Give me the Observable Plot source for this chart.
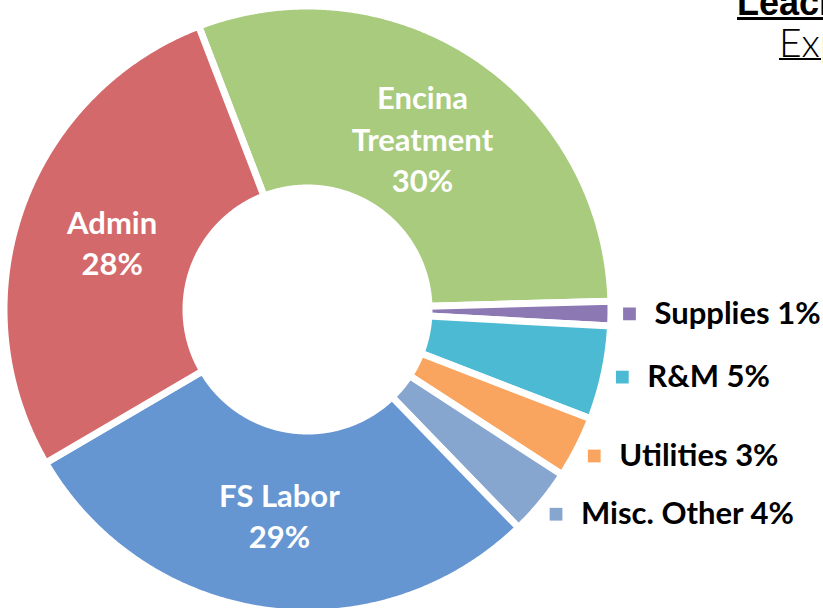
<!DOCTYPE html>
<html>
<head>
<meta charset="utf-8">
<script src="https://cdn.jsdelivr.net/npm/d3@7"></script>
<script src="https://cdn.jsdelivr.net/npm/@observablehq/plot@0.6"></script>
<style>
html, body { margin: 0; padding: 0; background: #fff; width: 823px; height: 608px; overflow: hidden; }
#wrap { position: relative; width: 823px; height: 608px; overflow: hidden; }
#chart { position: absolute; left: 0; top: 0; }
.title1 { position: absolute; left: 737px; top: -12px; font: bold 36px/30px "Liberation Sans", Arial, sans-serif; text-decoration: underline; text-decoration-thickness: 3px; white-space: nowrap; color: #000; }
.title2 { position: absolute; left: 779px; top: 27px; font: 300 39px/30px Lato, "Liberation Sans", sans-serif; text-decoration: underline; text-decoration-thickness: 2px; white-space: nowrap; color: #000; }
</style>
</head>
<body>
<div id="wrap">
  <div id="chart"></div>
  <div class="title1">Leachate Treatment</div>
  <div class="title2">Expenses</div>
</div>
<script>
// ---- data ----
const categories = ["Encina Treatment", "Supplies", "R&M", "Utilities", "Misc. Other", "FS Labor", "Admin"];
const insideNames = ["Encina\nTreatment", "Supplies", "R&M", "Utilities", "Misc. Other", "FS Labor", "Admin"];
const shares = [30.4, 1.3, 5.0, 3.3, 3.6, 28.8, 27.6];

// ---- geometry (pixel-like units, center at 0,0) ----
const colors = ["#A8CB7E", "#8C78B3", "#4DBAD3", "#F9A560", "#87A6CF", "#6596D2", "#D4696C"];
const startDeg = -21;
const outerR = 303.5, innerR = 121.5;
const labelR = 207, markerR = 322;

const arcs = d3.pie().sort(null)
  .startAngle(startDeg * Math.PI / 180)
  .endAngle(startDeg * Math.PI / 180 + 2 * Math.PI)(shares);

const poly = [];
arcs.forEach((a, i) => {
  const n = Math.max(4, Math.ceil((a.endAngle - a.startAngle) / (0.4 * Math.PI / 180)));
  for (let k = 0; k <= n; k++) {
    const t = a.startAngle + (a.endAngle - a.startAngle) * k / n;
    poly.push({cat: categories[i], x: outerR * Math.sin(t), y: outerR * Math.cos(t)});
  }
  for (let k = n; k >= 0; k--) {
    const t = a.startAngle + (a.endAngle - a.startAngle) * k / n;
    poly.push({cat: categories[i], x: innerR * Math.sin(t), y: innerR * Math.cos(t)});
  }
});

const rows = arcs.map((a, i) => {
  const m = (a.startAngle + a.endAngle) / 2;
  return {
    cat: categories[i], name: insideNames[i], v: shares[i],
    lx: labelR * Math.sin(m), ly: labelR * Math.cos(m),
    mx: markerR * Math.sin(m), my: markerR * Math.cos(m)
  };
});
const big = rows.filter(d => d.v >= 10);
const small = rows.filter(d => d.v < 10);

const font = "Lato, 'Liberation Sans', sans-serif";

const chart = Plot.plot({
  width: 823, height: 608,
  margin: 0,
  x: {domain: [-307, 516], range: [0, 823], axis: null},
  y: {domain: [-299, 309], range: [608, 0], axis: null},
  color: {domain: categories, range: colors},
  style: {background: "white", overflow: "visible"},
  marks: [
    Plot.line(poly, {x: "x", y: "y", z: "cat", fill: "cat", stroke: "white", strokeWidth: 7, strokeLinejoin: "round", curve: "linear-closed"}),
    Plot.text(big, {x: "lx", y: "ly", text: d => `${d.name}\n${Math.round(d.v)}%`, fill: "white", fontSize: 31, fontWeight: "bold", fontFamily: font, lineHeight: 1.33}),
    Plot.dot(small, {x: "mx", y: "my", symbol: "square", r: 7.2, fill: "cat"}),
    Plot.text(small, {x: "mx", y: "my", text: d => `${d.cat} ${Math.round(d.v)}%`, textAnchor: "start", dx: 25, fill: "black", fontSize: 31, fontWeight: "bold", fontFamily: font})
  ]
});
document.getElementById("chart").appendChild(chart);
</script>
</body>
</html>
